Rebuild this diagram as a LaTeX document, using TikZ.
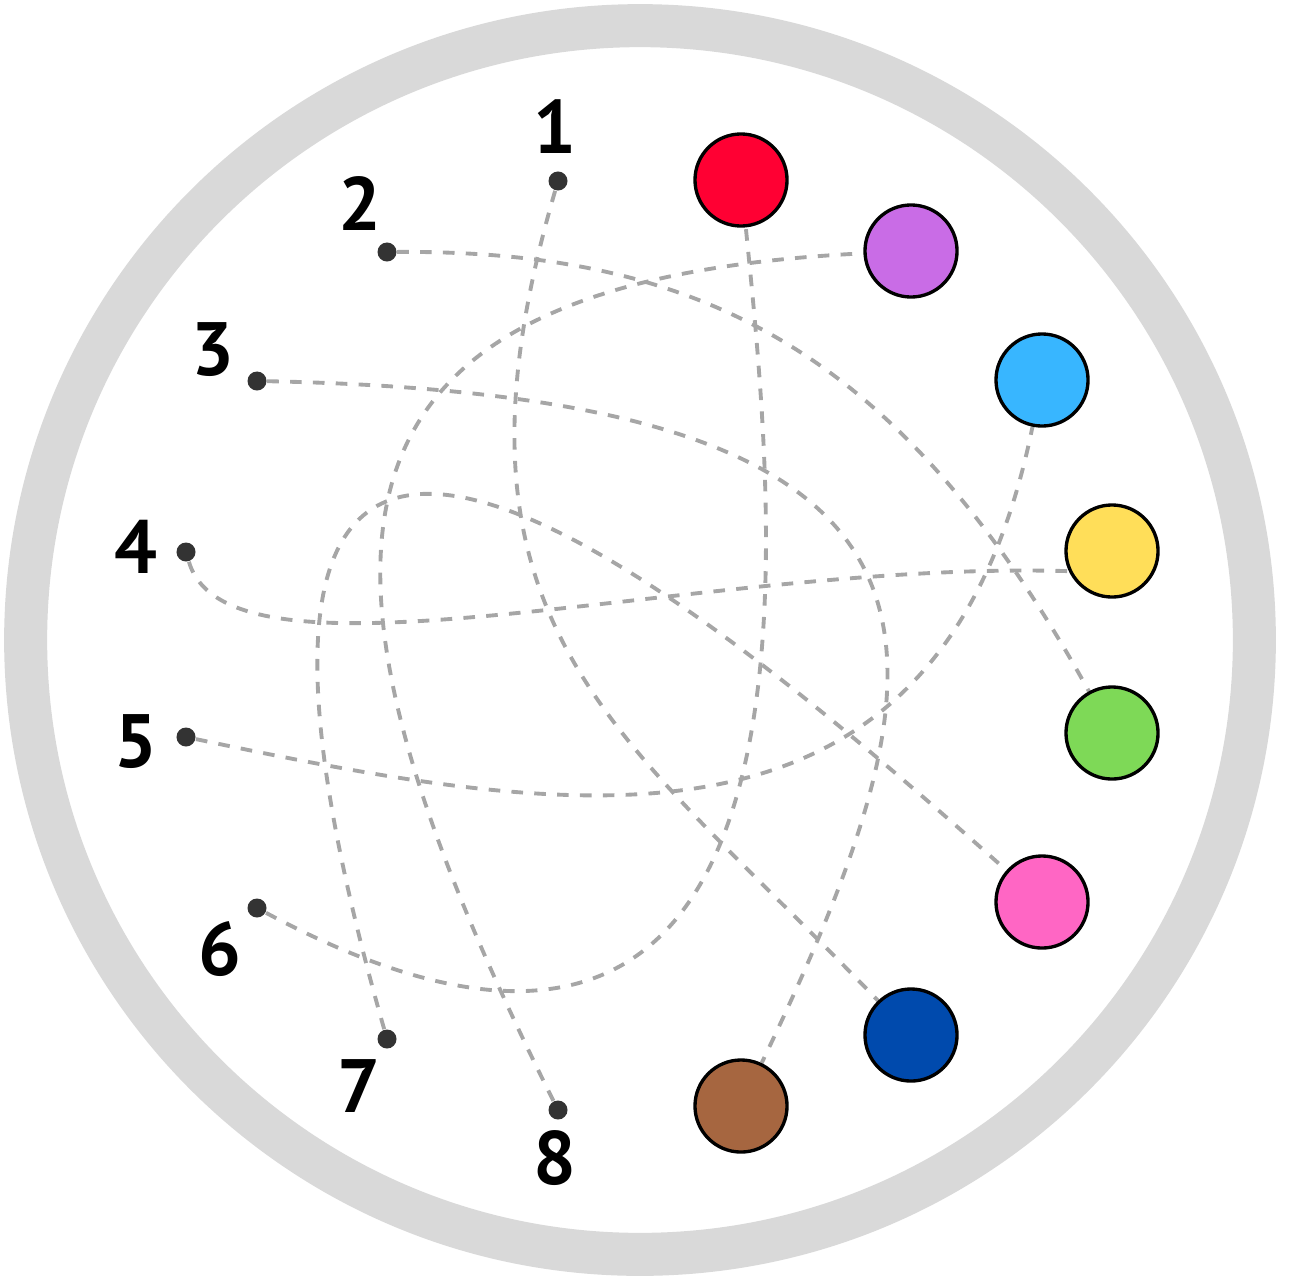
\documentclass[tikz,border=0pt]{standalone}
\usepackage{fontspec}
\setmainfont{PT Sans}
\usepackage{xcolor}
\usetikzlibrary{backgrounds}
\definecolor{rimgray}{HTML}{D9D9D9}
\definecolor{wiregray}{HTML}{A6A6A6}
\definecolor{pindark}{HTML}{333333}
\definecolor{swred}{HTML}{FF0033}
\definecolor{swpurple}{HTML}{C96CE6}
\definecolor{swblue}{HTML}{38B6FF}
\definecolor{swyellow}{HTML}{FFDE59}
\definecolor{swgreen}{HTML}{7ED957}
\definecolor{swpink}{HTML}{FF66C4}
\definecolor{swnavy}{HTML}{004AAD}
\definecolor{swbrown}{HTML}{A66640}
\tikzset{
  rim/.style={draw=rimgray, line width=0.43cm},
  wire/.style={draw=wiregray, line width=1.1pt, dash pattern=on 3.3pt off 3.2pt},
  pin/.style={circle, fill=pindark, inner sep=0pt, minimum size=0.19cm},
  swatch/.style={circle, draw=black, line width=0.95pt, inner sep=0pt, minimum size=0.92cm},
  num/.style={font=\fontsize{21.5}{24}\selectfont\bfseries, inner sep=0pt},
}
\begin{document}
\begin{tikzpicture}[x=0.01cm, y=-0.01cm]
\useasboundingbox (0,0) rectangle (1295,1279);
\node[pin] (d1) at (558,181) {};
\node[pin] (d2) at (387,252) {};
\node[pin] (d3) at (257,381) {};
\node[pin] (d4) at (186,552) {};
\node[pin] (d5) at (186,737) {};
\node[pin] (d6) at (257,908) {};
\node[pin] (d7) at (387,1039) {};
\node[pin] (d8) at (558,1110) {};
\node[num] (n1) at (555,127) {1};
\node[num] (n2) at (360,204) {2};
\node[num] (n3) at (213,350) {3};
\node[num] (n4) at (136,547) {4};
\node[num] (n5) at (136,742) {5};
\node[num] (n6) at (220,949) {6};
\node[num] (n7) at (359,1086) {7};
\node[num] (n8) at (555,1158) {8};
\node[swatch, fill=swred] (cred) at (741,180) {};
\node[swatch, fill=swpurple] (cpurple) at (911,251) {};
\node[swatch, fill=swblue] (cblue) at (1042,380) {};
\node[swatch, fill=swyellow] (cyellow) at (1112,551) {};
\node[swatch, fill=swgreen] (cgreen) at (1112,733) {};
\node[swatch, fill=swpink] (cpink) at (1042,902) {};
\node[swatch, fill=swnavy] (cnavy) at (911,1035) {};
\node[swatch, fill=swbrown] (cbrown) at (741,1106) {};
\begin{scope}[on background layer]
\draw[rim] (640,640) circle (6.14cm);
\draw[wire] (d1) .. controls (428,626) and (616,728) .. (cnavy);
\draw[wire] (d2) .. controls (704,250) and (902,354) .. (cgreen);
\draw[wire] (d3) .. controls (1007,396) and (960,650) .. (cbrown);
\draw[wire] (d4) .. controls (230,700) and (700,560) .. (cyellow.205);
\draw[wire] (d5) .. controls (580,820) and (940,880) .. (cblue);
\draw[wire] (d6) .. controls (852,1226) and (775,518) .. (cred);
\draw[wire] (d7) .. controls (118,99) and (713,609) .. (cpink);
\draw[wire] (d8) .. controls (275,545) and (301,281) .. (cpurple);
\end{scope}
\end{tikzpicture}
\end{document}
